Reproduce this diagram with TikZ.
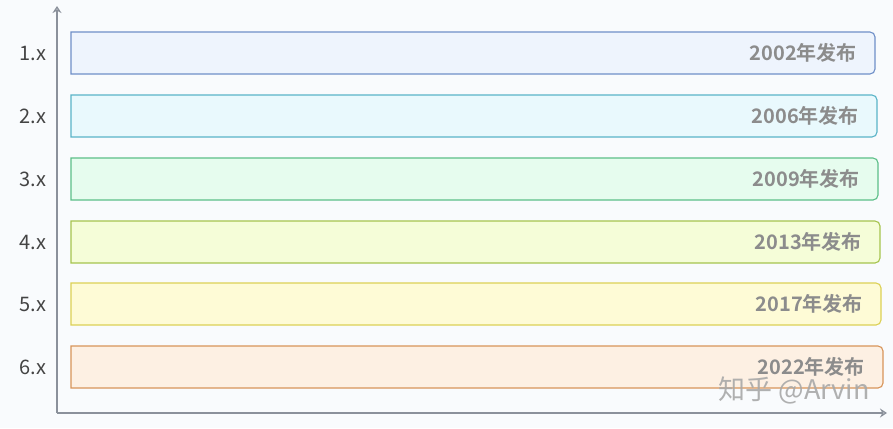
\documentclass[tikz,border=0pt]{standalone}
\usepackage{fontspec}
\setmainfont{Noto Sans CJK SC}
\newfontfamily\cjkbold{Noto Sans CJK SC Bold}
\usetikzlibrary{arrows.meta}
\definecolor{bgc}{HTML}{F9FBFD}
\definecolor{axisc}{HTML}{8B919B}
\definecolor{txtc}{HTML}{8C8C8C}
\definecolor{labc}{HTML}{444444}
\definecolor{wmc}{HTML}{A8A8A8}
\definecolor{fA}{HTML}{EEF4FD}\definecolor{dA}{HTML}{6F8FC8}
\definecolor{fB}{HTML}{E9F9FD}\definecolor{dB}{HTML}{5AB4C8}
\definecolor{fC}{HTML}{E6FCEE}\definecolor{dC}{HTML}{5CBF88}
\definecolor{fD}{HTML}{F5FDD8}\definecolor{dD}{HTML}{A6C44E}
\definecolor{fE}{HTML}{FEFBD6}\definecolor{dE}{HTML}{DCD055}
\definecolor{fF}{HTML}{FDF0E3}\definecolor{dF}{HTML}{D8955A}
\tikzset{
  verlabel/.style={anchor=center, text=labc, font=\fontsize{20}{20}\selectfont, inner sep=0pt},
  bartext/.style={anchor=east, text=txtc, font=\cjkbold\fontsize{20}{20}\selectfont, inner sep=0pt},
  axisline/.style={draw=axisc, line width=2pt, -{Stealth[length=7pt,width=9pt,open]}},
}
\newcommand{\verbar}[5]{% #1 name, #2 top y, #3 right x, #4 fill, #5 draw
  \filldraw[fill=#4, draw=#5, line width=1.1pt] (71,#2) -- (#3-5,#2) arc[start angle=-90,end angle=0,radius=5] -- (#3,#2+37) arc[start angle=0,end angle=90,radius=5] -- (71,#2+42) -- cycle;
  \coordinate (#1) at (#3,#2+21);
}
\begin{document}
\begin{tikzpicture}[x=1pt,y=-1pt]
\fill[bgc] (0,0) rectangle (893,428);
\useasboundingbox (0,0) rectangle (893,428);
\coordinate (org) at (57,413);
\coordinate (ytop) at (57,6);
\coordinate (xend) at (887,413);
\verbar{b1}{32}{875}{fA}{dA}
\verbar{b2}{95}{877}{fB}{dB}
\verbar{b3}{158}{878}{fC}{dC}
\verbar{b4}{221}{880}{fD}{dD}
\verbar{b5}{283}{881}{fE}{dE}
\verbar{b6}{346}{883}{fF}{dF}
\node[bartext] (t1) at ([xshift=-18pt]b1) {2002年发布};
\node[bartext] (t2) at ([xshift=-18pt]b2) {2006年发布};
\node[bartext] (t3) at ([xshift=-18pt]b3) {2009年发布};
\node[bartext] (t4) at ([xshift=-18pt]b4) {2013年发布};
\node[bartext] (t5) at ([xshift=-18pt]b5) {2017年发布};
\node[bartext] (t6) at ([xshift=-18pt]b6) {2022年发布};
\node[verlabel] (l1) at (33,53) {1.x};
\node[verlabel] (l2) at (33,116) {2.x};
\node[verlabel] (l3) at (33,179) {3.x};
\node[verlabel] (l4) at (33,242) {4.x};
\node[verlabel] (l5) at (33,304) {5.x};
\node[verlabel] (l6) at (33,367) {6.x};
\draw[axisline] (org) -- (ytop);
\draw[axisline] (org) -- (xend);
\node[anchor=base east, text=wmc, opacity=0.9, font=\fontsize{27}{27}\selectfont, inner sep=0pt] (wm) at (870,399) {知乎 @Arvin};
\end{tikzpicture}
\end{document}
